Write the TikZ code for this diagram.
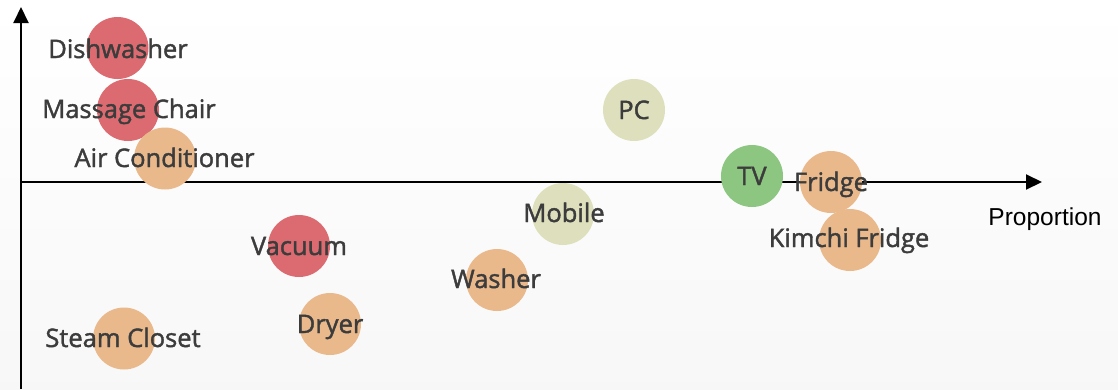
\documentclass[tikz,border=0pt]{standalone}
\usepackage{fontspec}
\setmainfont{Open Sans}
\newfontfamily\lblfont{Open Sans}[FakeBold=1.6]
\newfontfamily\axisfont{Liberation Sans}
\usetikzlibrary{arrows.meta}
\definecolor{bred}{HTML}{DC6B71}
\definecolor{borange}{HTML}{E9B98C}
\definecolor{bolive}{HTML}{DEE0BD}
\definecolor{bgreen}{HTML}{8CC680}
\definecolor{labelgray}{HTML}{3C3C3C}
\tikzset{
  bub/.style={circle, minimum size=62pt, inner sep=0pt, draw=none},
  lbl/.style={anchor=base, text=labelgray, inner sep=0pt, font=\lblfont\fontsize{25.5}{28}\selectfont},
  axis/.style={line width=2pt, -{Triangle[length=16pt,width=15pt]}},
}
\begin{document}
\begin{tikzpicture}[x=1pt,y=-1pt]
\shade[top color=white, bottom color=gray!6] (0,0) rectangle (1118,389);
\useasboundingbox (0,0) rectangle (1118,389);
\coordinate (ybot) at (21,389);
\coordinate (ytop) at (21,7);
\coordinate (xorg) at (21,182);
\coordinate (xend) at (1042,182);
\draw[axis] (ybot) -- (ytop);
\draw[axis] (xorg) -- (xend);
% bubbles
\node[bub, fill=bred] (dish) at (117.5,48) {};
\node[bub, fill=bred] (mass) at (128,110) {};
\node[bub, fill=borange] (air) at (165,158.5) {};
\node[bub, fill=bred] (vac) at (299,246) {};
\node[bub, fill=borange] (dry) at (330,324) {};
\node[bub, fill=borange] (steam) at (124,338.5) {};
\node[bub, fill=bolive] (pc) at (634,110) {};
\node[bub, fill=bolive] (mob) at (563,214) {};
\node[bub, fill=borange] (wash) at (497,280) {};
\node[bub, fill=bgreen] (tv) at (752,176) {};
\node[bub, fill=borange] (fridge) at (831,182) {};
\node[bub, fill=borange] (kimchi) at (850,240) {};
% labels
\node[lbl] (tdish) at (118,58) {Dishwasher};
\node[lbl] (tmass) at (129,118) {Massage Chair};
\node[lbl] (tair) at (164.5,167) {Air Conditioner};
\node[lbl] (tvac) at (299,255) {Vacuum};
\node[lbl] (tdry) at (330,333) {Dryer};
\node[lbl] (tsteam) at (123,347) {Steam Closet};
\node[lbl] (tpc) at (634,119) {PC};
\node[lbl] (tmob) at (564,222) {Mobile};
\node[lbl] (twash) at (496,288) {Washer};
\node[lbl] (ttv) at (752,185) {TV};
\node[lbl] (tfridge) at (831,191) {Fridge};
\node[lbl] (tkimchi) at (849,247) {Kimchi Fridge};
\node[anchor=base, inner sep=0pt, font=\axisfont\fontsize{24.5}{27}\selectfont] (prop) at (1045,225) {Proportion};
\end{tikzpicture}
\end{document}
